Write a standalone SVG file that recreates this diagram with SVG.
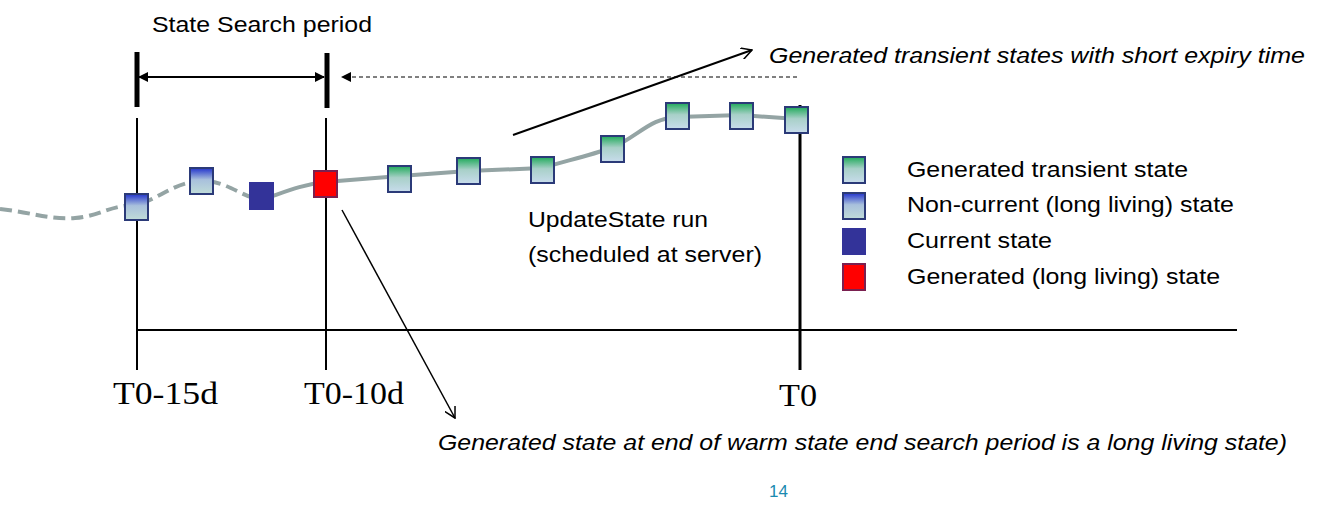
<svg xmlns="http://www.w3.org/2000/svg" width="1325" height="532" viewBox="0 0 1325 532">
<defs>
<linearGradient id="gg" x1="0" y1="0" x2="0" y2="1"><stop offset="0" stop-color="#1faa5a"/><stop offset="0.45" stop-color="#a8d0c8"/><stop offset="1" stop-color="#c8dcec"/></linearGradient>
<linearGradient id="bg" x1="0" y1="0" x2="0" y2="1"><stop offset="0" stop-color="#2233cc"/><stop offset="0.45" stop-color="#a8c0dc"/><stop offset="1" stop-color="#c0dcd8"/></linearGradient>
<marker id="af" markerWidth="10" markerHeight="10" refX="9" refY="5" orient="auto-start-reverse" markerUnits="userSpaceOnUse"><path d="M0,0 L10,5 L0,10 z" fill="#000"/></marker>
<marker id="ao" markerWidth="12" markerHeight="12" refX="11" refY="6" orient="auto" markerUnits="userSpaceOnUse"><path d="M0,0 L11,6 L0,12" fill="none" stroke="#000" stroke-width="1.5"/></marker>
</defs>
<style>
.t{font-family:"Liberation Sans",Arial,sans-serif;font-size:22px;fill:#000}
.i{font-style:italic}
.s{font-family:"Liberation Serif","Times New Roman",serif;font-size:31px;fill:#000}
.g{fill:url(#gg);stroke:#2b3a78;stroke-width:2}
.b{fill:url(#bg);stroke:#2b3a78;stroke-width:2}
.d{fill:#333399;stroke:#333399;stroke-width:2}
.r{fill:#ff0000;stroke:#7a2050;stroke-width:2}
</style>
<rect width="1325" height="532" fill="#fff"/>
<g id="curve" fill="none" stroke="#94a4a4" stroke-width="4">
<path d="M0,209 C30,212 50,220 75,218 C100,216 110,205 137,205 C160,198 175,182 201,181 C225,180 240,196 261,200" stroke-dasharray="12,6"/>
<path d="M261,200 C285,192 300,185 325,182 L400,176 L468,171 L542,168 C570,160 590,155 612,148 C640,135 650,118 678,117 L741,115 L797,119"/>
</g>
<g id="connectors" stroke="#000" fill="none">
<line x1="137" y1="52" x2="137" y2="107" stroke-width="5"/>
<line x1="327" y1="53" x2="327" y2="108" stroke-width="5"/>
<line x1="137" y1="118" x2="137" y2="370" stroke-width="2"/>
<line x1="326" y1="118" x2="326" y2="370" stroke-width="2"/>
<line x1="800" y1="105" x2="800" y2="370" stroke-width="3"/>
<line x1="137" y1="330" x2="1237" y2="330" stroke-width="2"/>
<line x1="139" y1="77" x2="324" y2="77" stroke-width="2" marker-start="url(#af)" marker-end="url(#af)"/>
<line x1="797" y1="77" x2="342" y2="77" stroke-width="1" stroke-dasharray="4,3" marker-end="url(#af)"/>
<line x1="513" y1="135" x2="752" y2="50" stroke-width="2" marker-end="url(#ao)"/>
<line x1="342" y1="210" x2="455" y2="418" stroke-width="1.5" marker-end="url(#ao)"/>
</g>
<g id="states">
<rect class="b" x="125" y="194" width="23" height="26"/>
<rect class="b" x="190" y="168" width="23" height="26"/>
<rect class="d" x="250" y="183" width="23" height="26"/>
<rect class="r" x="314" y="171" width="23" height="26"/>
<rect class="g" x="388" y="166" width="23" height="26"/>
<rect class="g" x="457" y="158" width="23" height="26"/>
<rect class="g" x="531" y="157" width="23" height="26"/>
<rect class="g" x="601" y="136" width="23" height="26"/>
<rect class="g" x="666" y="103" width="23" height="26"/>
<rect class="g" x="730" y="103" width="23" height="26"/>
<rect class="g" x="785" y="107" width="23" height="26"/>
</g>
<g id="legend">
<rect class="g" x="843" y="157" width="22" height="26"/>
<rect class="b" x="843" y="193" width="22" height="26"/>
<rect class="d" x="843" y="229" width="22" height="25"/>
<rect class="r" x="843" y="264" width="22" height="26"/>
<text class="t" x="907" y="177" textLength="281" lengthAdjust="spacingAndGlyphs">Generated transient state</text>
<text class="t" x="907" y="212" textLength="327" lengthAdjust="spacingAndGlyphs">Non-current (long living) state</text>
<text class="t" x="907" y="248" textLength="145" lengthAdjust="spacingAndGlyphs">Current state</text>
<text class="t" x="907" y="284" textLength="313" lengthAdjust="spacingAndGlyphs">Generated (long living) state</text>
</g>
<g id="labels">
<text class="t" x="152" y="32" textLength="220" lengthAdjust="spacingAndGlyphs">State Search period</text>
<text class="t i" x="769" y="63" textLength="536" lengthAdjust="spacingAndGlyphs">Generated transient states with short expiry time</text>
<text class="t" x="528" y="227" textLength="180" lengthAdjust="spacingAndGlyphs">UpdateState run</text>
<text class="t" x="528" y="262" textLength="234" lengthAdjust="spacingAndGlyphs">(scheduled at server)</text>
<text class="s" x="113" y="404" textLength="105" lengthAdjust="spacingAndGlyphs">T0-15d</text>
<text class="s" x="304" y="404" textLength="100" lengthAdjust="spacingAndGlyphs">T0-10d</text>
<text class="s" x="779" y="406" textLength="38" lengthAdjust="spacingAndGlyphs">T0</text>
<text class="t i" x="438" y="450" textLength="849" lengthAdjust="spacingAndGlyphs">Generated state at end of warm state end search period is a long living state)</text>
<text x="769" y="497" font-family="Liberation Sans,Arial,sans-serif" font-size="17" fill="#1a8ab0">14</text>
</g>
</svg>
